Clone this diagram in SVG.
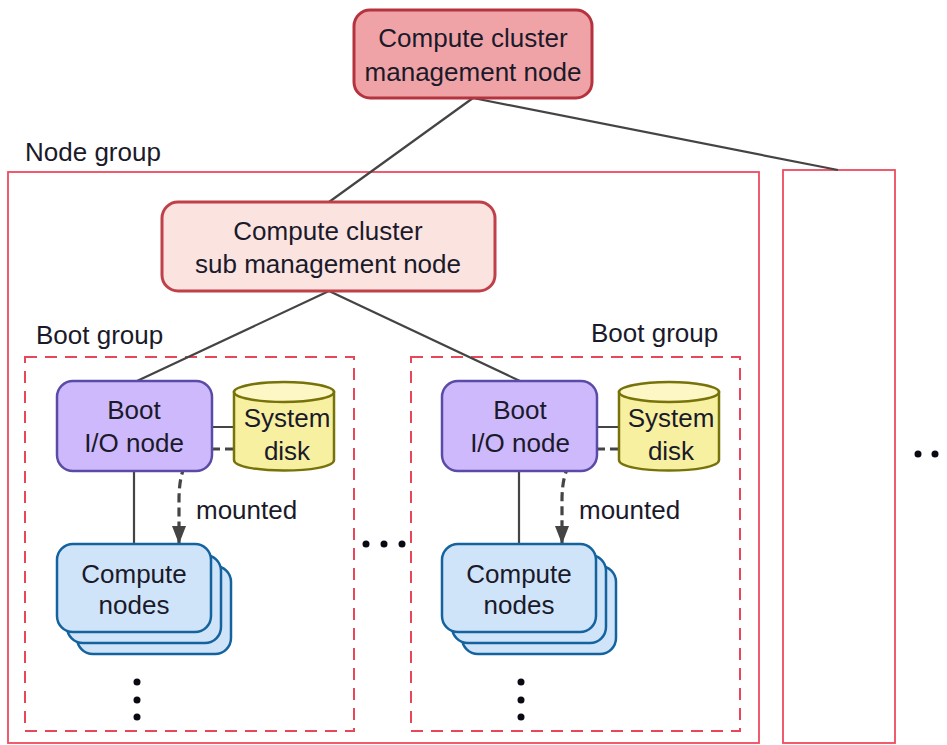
<svg xmlns="http://www.w3.org/2000/svg" width="947" height="745" viewBox="0 0 947 745">
<style>
text{font-family:"Liberation Sans",Arial,sans-serif;font-size:26px;fill:#1a1a2a}
.m{text-anchor:middle}
.c{fill:none;stroke:#444;stroke-width:2.2}
.grp{fill:none;stroke:#ee4b5f;stroke-width:1.8}
.bg{fill:none;stroke:#e8475a;stroke-width:2;stroke-dasharray:12 8}
.boot{fill:#cdb9fb;stroke:#5a4ca6;stroke-width:2.5}
.cmp{fill:#cfe3f9;stroke:#14639f;stroke-width:2.5}
.disk{fill:#f7f0a0;stroke:#77730a;stroke-width:2.5}
.top{fill:#fcf7c4;stroke:#77730a;stroke-width:2.5}
.mnt{fill:none;stroke:#444;stroke-width:3.2;stroke-dasharray:9 5}
.d{fill:#0a0a14}
</style>
<defs>
<marker id="ah" markerUnits="userSpaceOnUse" markerWidth="20" markerHeight="14" refX="18" refY="7" orient="auto"><path d="M0 0L18 7L0 14Z" fill="#444"/></marker>
</defs>
<g id="node-group-frame"><rect class="grp" x="8" y="172" width="751" height="571"/><text x="25" y="161">Node group</text></g>
<g id="node-group-next"><rect class="grp" x="783" y="170" width="112" height="573"/></g>
<g id="boot-group-1"><rect class="bg" x="25" y="357" width="329" height="374"/><text x="36" y="344">Boot group</text></g>
<g id="boot-group-2"><rect class="bg" x="411" y="357" width="329" height="374"/><text x="591" y="342">Boot group</text></g>
<g id="connectors">
<path class="c" d="M473 98L329 202M473 98L838 170M329 291L137 381M329 291L520 381M212 427H236M134 471V544M597 427H620M519 471V544"/>
<path class="mnt" marker-end="url(#ah)" d="M234 449H214C190 449 179 465 179 500V544"/>
<path class="mnt" marker-end="url(#ah)" d="M619 449H599C575 449 562 465 562 500V544"/>
</g>
<g id="mgmt"><rect x="354" y="10" width="238" height="88" rx="16" fill="#f0a3a6" stroke="#b5323f" stroke-width="3"/><text class="m" x="473" y="47">Compute cluster</text><text class="m" x="473" y="81">management node</text></g>
<g id="sub"><rect x="162" y="202" width="333" height="89" rx="16" fill="#fbe3e0" stroke="#c0404a" stroke-width="3"/><text class="m" x="328" y="240">Compute cluster</text><text class="m" x="328" y="273">sub management node</text></g>
<g id="boot-io-1"><rect class="boot" x="57" y="381" width="155" height="90" rx="16"/><text class="m" x="134" y="419">Boot</text><text class="m" x="134" y="452">I/O node</text></g>
<g id="boot-io-2"><rect class="boot" x="442" y="381" width="155" height="90" rx="16"/><text class="m" x="520" y="419">Boot</text><text class="m" x="520" y="452">I/O node</text></g>
<g id="disk-1"><path class="disk" d="M234 392V460C234 474 334 474 334 460V392Z"/><ellipse class="top" cx="284" cy="392" rx="50" ry="10"/><text class="m" x="287" y="427">System</text><text class="m" x="287" y="460">disk</text></g>
<g id="disk-2"><path class="disk" d="M619 392V460C619 474 719 474 719 460V392Z"/><ellipse class="top" cx="669" cy="392" rx="50" ry="10"/><text class="m" x="671" y="427">System</text><text class="m" x="671" y="460">disk</text></g>
<g id="compute-1"><rect class="cmp" x="77" y="566" width="154" height="88" rx="16"/><rect class="cmp" x="67" y="555" width="154" height="88" rx="16"/><rect class="cmp" x="57" y="544" width="154" height="88" rx="16"/><text class="m" x="134" y="583">Compute</text><text class="m" x="134" y="614">nodes</text></g>
<g id="compute-2"><rect class="cmp" x="462" y="566" width="154" height="88" rx="16"/><rect class="cmp" x="452" y="555" width="154" height="88" rx="16"/><rect class="cmp" x="442" y="544" width="154" height="88" rx="16"/><text class="m" x="519" y="583">Compute</text><text class="m" x="519" y="614">nodes</text></g>
<text id="mounted-1" x="196" y="519">mounted</text>
<text id="mounted-2" x="579" y="519">mounted</text>
<g id="ellipses">
<circle class="d" cx="137" cy="682" r="3.5"/><circle class="d" cx="137" cy="700" r="3.5"/><circle class="d" cx="137" cy="717" r="3.5"/>
<circle class="d" cx="521" cy="682" r="3.5"/><circle class="d" cx="521" cy="700" r="3.5"/><circle class="d" cx="521" cy="717" r="3.5"/>
<circle class="d" cx="366" cy="544" r="3.5"/><circle class="d" cx="384" cy="544" r="3.5"/><circle class="d" cx="402" cy="544" r="3.5"/>
<circle class="d" cx="918" cy="454" r="3.5"/><circle class="d" cx="935" cy="454" r="3.5"/>
</g>
</svg>
